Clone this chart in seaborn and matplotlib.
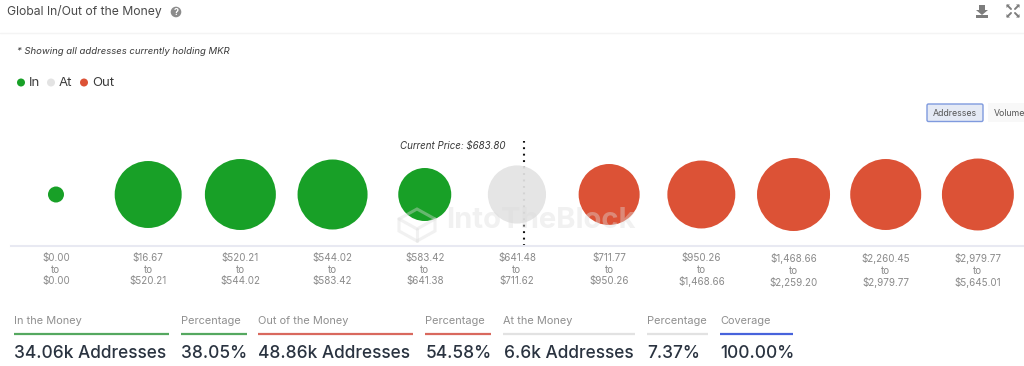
import matplotlib
matplotlib.use("Agg")
import matplotlib.pyplot as plt
import pandas as pd
import seaborn as sns
from matplotlib.colors import to_rgba
from matplotlib.patches import Circle, FancyBboxPatch, Polygon, Rectangle

range_low = ["$0.00", "$16.67", "$520.21", "$544.02", "$583.42", "$641.48",
             "$711.77", "$950.26", "$1,468.66", "$2,260.45", "$2,979.77"]
range_high = ["$0.00", "$520.21", "$544.02", "$583.42", "$641.38", "$711.62",
              "$950.26", "$1,468.66", "$2,259.20", "$2,979.77", "$5,645.01"]
# thousands of addresses per bucket
addresses = [0.5, 8.75, 9.83, 9.56, 5.48, 6.6, 7.26, 9.0, 10.4, 9.83, 10.1]
status = ["In", "In", "In", "In", "In", "At", "Out", "Out", "Out", "Out", "Out"]
current_price_pos = 5.08

stat_titles = ["In the Money", "Percentage", "Out of the Money", "Percentage",
               "At the Money", "Percentage", "Coverage"]
stat_values = ["34.06k Addresses", "38.05%", "48.86k Addresses", "54.58%",
               "6.6k Addresses", "7.37%", "100.00%"]
stat_left = [14, 181, 258, 425, 503, 647, 720]
stat_right = [169, 247, 413, 491, 635, 708, 793]
stat_colors = ["#55a860", "#55a860", "#d9695e", "#d9695e", "#e2e2e2", "#e2e2e2", "#4763dc"]

GREEN = "#18a027"
RED = "#dc5236"
GRAY = "#e3e3e3"
W, H = 1024, 366

sns.set_theme(style="white")
plt.rcParams["font.family"] = ["Inter", "DejaVu Sans"]

fig = plt.figure(figsize=(W / 100, H / 100), dpi=100, facecolor="white")

# bubble axes, placed in pixels
ax = fig.add_axes([11 / W, (H - 246) / H, (W - 11) / W, 111 / H])
df = pd.DataFrame({"pos": range(len(addresses)), "y": [0] * len(addresses),
                   "addresses": addresses, "status": status})
ax.vlines(current_price_pos, -51.5, 53.5, color="#111111", lw=1.5,
          linestyles=(0, (0.9, 2.2)), zorder=1)
sns.scatterplot(data=df, x="pos", y="y", size="addresses", hue="status", ax=ax,
                palette={"In": GREEN, "At": to_rgba(GRAY, 0.93), "Out": RED},
                sizes=(0, 3190), size_norm=(0, 12), linewidth=0, legend=False, zorder=2)
ax.set_xlim(-0.488, 10.5)
ax.set_ylim(-51.5, 59.5)
ax.set_xticks(range(len(addresses)))
ax.set_xticklabels([f"{a}\nto\n{b}" for a, b in zip(range_low, range_high)],
                   fontsize=7.1, color="#8a8a8a", linespacing=1.2)
ax.tick_params(axis="x", length=0, pad=5)
ax.set_xlabel("")
ax.set_ylabel("")
ax.set_yticks([])
sns.despine(ax=ax, left=True)
ax.spines["bottom"].set_color("#e8e9f2")
ax.spines["bottom"].set_linewidth(1.5)
ax.patch.set_alpha(0)

# overlay in pixel coordinates for the page furniture
ui = fig.add_axes([0, 0, 1, 1], zorder=5)
ui.set_xlim(0, W)
ui.set_ylim(H, 0)
ui.axis("off")

ui.text(7, 11.5, "Global In/Out of the Money", fontsize=8.75, color="#4a4a4a", va="center")
ui.add_patch(Circle((176, 12), 5.3, color="#8c8c8c", lw=0))
ui.text(176, 12.2, "?", fontsize=6.5, color="white", ha="center", va="center", weight="bold")
ui.plot([0, W], [33, 33], color="#f4f4f4", lw=1)
ui.text(17, 51.5, "* Showing all addresses currently holding MKR", fontsize=6.88,
        color="#3a3a3a", style="italic", va="center")

# legend
for x, c, name in zip([21, 51, 84], [GREEN, GRAY, RED], ["In", "At", "Out"]):
    ui.add_patch(Circle((x, 82.5), 4, color=c, lw=0))
    ui.text(x + 8, 82.5, name, fontsize=9.5, color="#3c3c3c", va="center")

# toolbar icons
ui.add_patch(Polygon([[979, 5], [985, 5], [985, 10], [988, 10], [982, 15], [976, 10], [979, 10]],
                     color="#7d7d7d", lw=0))
ui.add_patch(Rectangle((976, 15), 12, 3, color="#7d7d7d", lw=0))
for sx in (-1, 1):
    for sy in (-1, 1):
        ui.plot([1013 + sx * 2, 1013 + sx * 5.5], [11 + sy * 2, 11 + sy * 5.5], color="#7d7d7d", lw=1.4)
        ui.add_patch(Polygon([[1013 + sx * 6.5, 11 + sy * 6.5], [1013 + sx * 3, 11 + sy * 6.5],
                              [1013 + sx * 6.5, 11 + sy * 3]], color="#7d7d7d", lw=0))

# range buttons
ui.add_patch(FancyBboxPatch((927, 104), 56, 17.5, boxstyle="round,pad=0,rounding_size=1.5",
                            fc="#e5eaf5", ec="#7f9ade", lw=1))
ui.text(955, 113, "Addresses", fontsize=6.3, color="#555555", ha="center", va="center")
ui.add_patch(Rectangle((988, 103), 36, 19, color="#f8f8f8", lw=0))
ui.text(994, 113, "Volume", fontsize=6.3, color="#555555", va="center")

ui.text(400, 146, "Current Price: $683.80", fontsize=7.0, color="#3a3a3a", style="italic", va="center")

# watermark
wm = "#dcdcdc"
ui.text(446, 221, "IntoTheBlock", fontsize=21, color=wm, alpha=0.4, weight="bold", va="center")
ui.add_patch(Polygon([[417, 209], [435, 219], [435, 231], [417, 241], [399, 231], [399, 219]],
                     closed=True, fc="none", ec=wm, lw=2.2, alpha=0.4))
ui.plot([399, 417, 435], [219, 229, 219], color=wm, lw=2.2, alpha=0.4)
ui.plot([417, 417], [229, 241], color=wm, lw=2.2, alpha=0.4)

# stats row
for title, value, x0, x1, c in zip(stat_titles, stat_values, stat_left, stat_right, stat_colors):
    ui.text(x0, 321.5, title, fontsize=7.9, color="#8f8f8f", va="center")
    ui.plot([x0, x1], [334, 334], color=c, lw=1.6, solid_capstyle="butt")
    ui.text(x0 + 0.5, 353, value, fontsize=12.45, color="#2a3340", va="center", weight="medium")

fig.savefig("out.png", dpi=100)
